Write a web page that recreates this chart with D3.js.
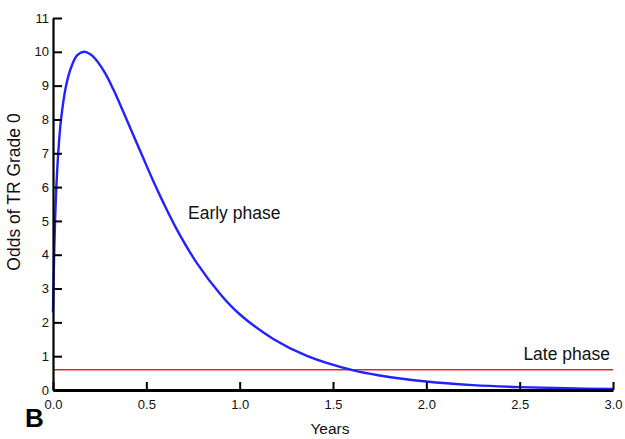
<!DOCTYPE html>
<html>
<head>
<meta charset="utf-8">
<script src="https://cdn.jsdelivr.net/npm/d3@7"></script>
<style>
  html, body { margin: 0; padding: 0; background: #fff; }
  svg { display: block; font-family: "Liberation Sans", Arial, Helvetica, sans-serif; }
</style>
</head>
<body>
<svg id="chart" width="625" height="439"></svg>
<script>
// ---- data ----
const years = [0, 0.005, 0.011, 0.018, 0.028, 0.043, 0.07, 0.1, 0.13, 0.168, 0.2, 0.225, 0.279, 0.323, 0.377, 0.43, 0.484, 0.537, 0.591, 0.663, 0.77, 0.9, 1.0, 1.18, 1.36, 1.61, 1.75, 2.0, 2.25, 2.5, 2.75, 3.0];
const earlyOdds = [2.3, 3.7, 5.0, 6.0, 7.0, 8.0, 9.0, 9.58, 9.9, 10.0, 9.93, 9.8, 9.37, 8.89, 8.22, 7.54, 6.85, 6.18, 5.54, 4.75, 3.76, 2.81, 2.24, 1.51, 1.01, 0.58, 0.43, 0.25, 0.145, 0.085, 0.05, 0.03];
const lateOdds = 0.6;
const xTicks = [0, 0.5, 1.0, 1.5, 2.0, 2.5, 3.0];
const yTicks = [0, 1, 2, 3, 4, 5, 6, 7, 8, 9, 10, 11];
const labels = { y: "Odds of TR Grade 0", x: "Years", early: "Early phase", late: "Late phase", panel: "B" };

// ---- layout ----
const svg = d3.select("#chart");
const x = d3.scaleLinear().domain([0, 3]).range([53, 613]);
const y = d3.scaleLinear().domain([0, 11]).range([390, 18]);

// red late phase line
svg.append("line")
  .attr("x1", x(0)).attr("x2", x(3))
  .attr("y1", y(lateOdds)).attr("y2", y(lateOdds))
  .attr("stroke", "#d42a33").attr("stroke-width", 1.6);

// blue early phase curve
const line = d3.line()
  .x((d, i) => x(years[i]))
  .y(d => y(d))
  .curve(d3.curveCatmullRom.alpha(0.5));
svg.append("path")
  .datum(earlyOdds)
  .attr("d", line)
  .attr("fill", "none")
  .attr("stroke", "#2222ff")
  .attr("stroke-width", 2.4)
  .attr("stroke-linejoin", "round");

// axes
const yAxis = d3.axisLeft(y).tickValues(yTicks).tickFormat(d3.format("d"))
  .tickSizeInner(-9).tickSizeOuter(0).tickPadding(4);
const gy = svg.append("g").attr("transform", `translate(${x(0)},0)`).call(yAxis);
gy.select(".domain").attr("stroke", "#000").attr("stroke-width", 2.2);
gy.selectAll(".tick line").attr("stroke", "#000").attr("stroke-width", 2);
gy.selectAll(".tick text").attr("font-size", 13).attr("fill", "#111")
  .attr("font-family", "Liberation Sans, Arial, sans-serif");

const xAxis = d3.axisBottom(x).tickValues(xTicks).tickFormat(d3.format(".1f"))
  .tickSizeInner(-8).tickSizeOuter(0).tickPadding(10);
const gx = svg.append("g").attr("transform", `translate(0,${y(0)})`).call(xAxis);
gx.select(".domain").attr("stroke", "#000").attr("stroke-width", 3);
gx.selectAll(".tick line").attr("stroke", "#000").attr("stroke-width", 2);
gx.selectAll(".tick text").attr("font-size", 13).attr("fill", "#111")
  .attr("font-family", "Liberation Sans, Arial, sans-serif");

// axis titles
svg.append("text")
  .attr("transform", `translate(20,192) rotate(-90)`)
  .attr("text-anchor", "middle")
  .attr("font-size", 17.5).attr("fill", "#111")
  .text(labels.y);

svg.append("text")
  .attr("x", 330).attr("y", 434)
  .attr("text-anchor", "middle")
  .attr("font-size", 15.5).attr("fill", "#111")
  .text(labels.x);

// annotations
svg.append("text")
  .attr("x", 188).attr("y", 219)
  .attr("font-size", 17.5).attr("fill", "#111")
  .text(labels.early);

svg.append("text")
  .attr("x", 610).attr("y", 360)
  .attr("text-anchor", "end")
  .attr("font-size", 17.5).attr("fill", "#111")
  .text(labels.late);

svg.append("text")
  .attr("x", 25).attr("y", 427)
  .attr("font-size", 26).attr("font-weight", "bold").attr("fill", "#000")
  .text(labels.panel);
</script>
</body>
</html>
